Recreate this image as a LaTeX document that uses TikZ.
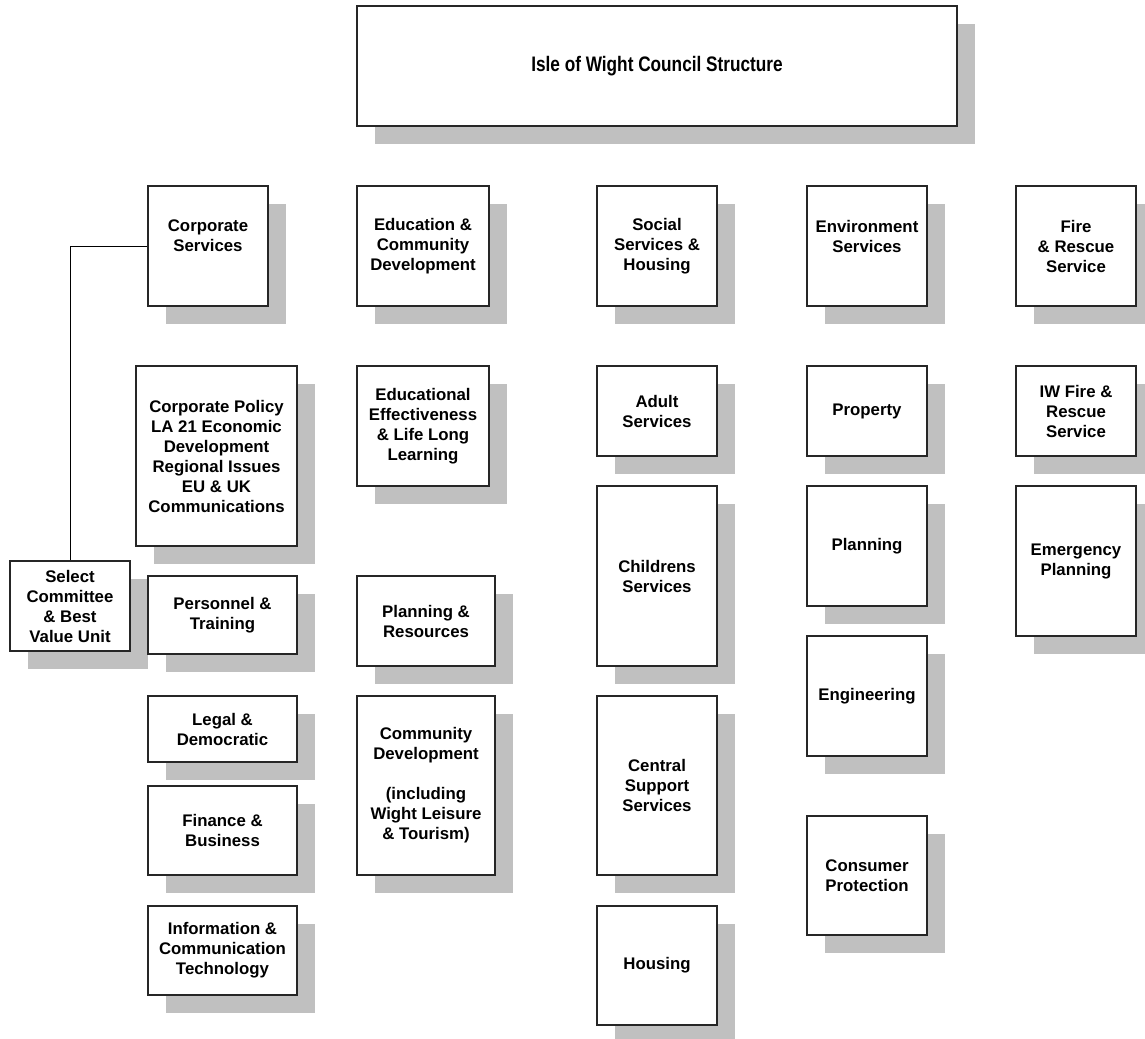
\documentclass[tikz,border=0pt]{standalone}
\usepackage{fontspec}
\setmainfont{Liberation Sans}
\newfontfamily\titlefont[FakeStretch=0.82]{Liberation Sans}
\usetikzlibrary{shadows}
\definecolor{shadowgray}{HTML}{C0C0C0}

\begin{document}
\begin{tikzpicture}[x=0.75pt, y=-0.75pt,
    unit/.style={draw=black!85, fill=white, line width=0.8pt, inner sep=2pt, align=center,
      font=\fontsize{12.6}{15}\selectfont\bfseries,
      drop shadow={shadow xshift=13.5pt, shadow yshift=-13.5pt, fill=shadowgray, opacity=1}},
    boxsize/.style 2 args={minimum width=#1*0.75pt, minimum height=#2*0.75pt}]
    \useasboundingbox (0,0) rectangle (1145,1038);

    % title
    \node[unit, boxsize={600}{120}, font=\titlefont\fontsize{15.75}{18}\selectfont\bfseries] (title) at (657,66) {Isle of Wight Council Structure};

    % directorates
    \node[unit, boxsize={120}{120}] (corp) at (208,246) {Corporate\\Services\\~};
    \node[unit, boxsize={132}{120}] (edu) at (423,246) {Education \&\\Community\\Development};
    \node[unit, boxsize={120}{120}] (soc) at (657,246) {Social\\Services \&\\Housing};
    \node[unit, boxsize={120}{120}] (env) at (867,246) {Environment\\Services\\~};
    \node[unit, boxsize={120}{120}] (fire) at (1076,246) {Fire\\\& Rescue\\Service};

    % corporate services
    \node[unit, boxsize={161}{180}] (corppol) at (216.5,456) {Corporate Policy\\LA 21 Economic\\Development\\Regional Issues\\EU \& UK\\Communications};
    \node[unit, boxsize={120}{90}] (select) at (70,606) {Select\\Committee\\\& Best\\Value Unit};
    \node[unit, boxsize={149}{78}] (pers) at (222.5,615) {Personnel \&\\Training};
    \node[unit, boxsize={149}{66}] (legal) at (222.5,729) {Legal \&\\Democratic};
    \node[unit, boxsize={149}{89}] (finance) at (222.5,830.5) {Finance \&\\Business};
    \node[unit, boxsize={149}{89}] (ict) at (222.5,950.5) {Information \&\\Communication\\Technology};

    % education & community development
    \node[unit, boxsize={132}{120}] (eduff) at (423,426) {Educational\\Effectiveness\\\& Life Long\\Learning};
    \node[unit, boxsize={138}{90}] (planres) at (426,621) {Planning \&\\Resources};
    \node[unit, boxsize={138}{179}] (commdev) at (426,785.5) {Community\\Development\\~\\(including\\Wight Leisure\\\& Tourism)};

    % social services & housing
    \node[unit, boxsize={120}{90}] (adult) at (657,411) {Adult\\Services};
    \node[unit, boxsize={120}{180}] (child) at (657,576) {Childrens\\Services};
    \node[unit, boxsize={120}{179}] (central) at (657,785.5) {Central\\Support\\Services};
    \node[unit, boxsize={120}{119}] (housing) at (657,965.5) {Housing};

    % environment services
    \node[unit, boxsize={120}{90}] (prop) at (867,411) {Property};
    \node[unit, boxsize={120}{120}] (plan) at (867,546) {Planning};
    \node[unit, boxsize={120}{120}] (eng) at (867,696) {Engineering};
    \node[unit, boxsize={120}{119}] (consumer) at (867,875.5) {Consumer\\Protection};

    % fire & rescue
    \node[unit, boxsize={120}{90}] (iwfire) at (1076,411) {IW Fire \&\\Rescue\\Service};
    \node[unit, boxsize={120}{150}] (emerg) at (1076,561) {Emergency\\Planning};

    \draw[line width=0.75pt] (corp.west) -| (select.north);
\end{tikzpicture}
\end{document}
